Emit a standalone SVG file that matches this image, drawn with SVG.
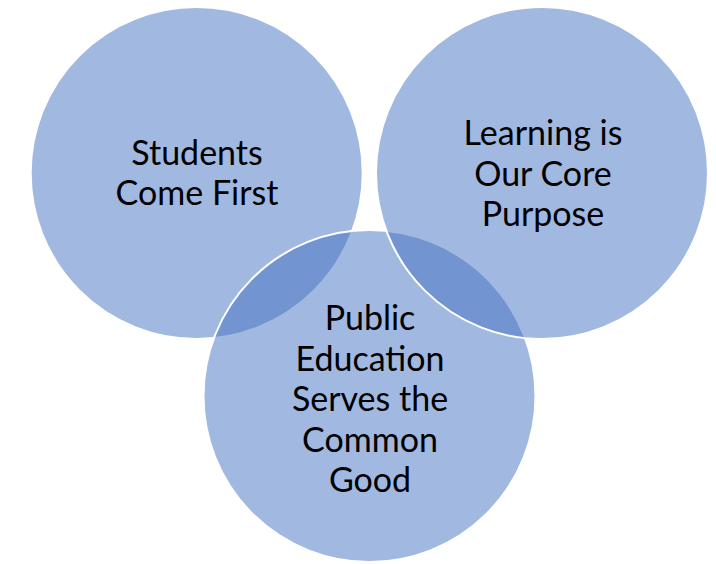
<svg xmlns="http://www.w3.org/2000/svg" width="716" height="564" viewBox="0 0 716 564">
<style>
.c{fill:#4472C4;fill-opacity:0.5;stroke:#FFFFFF;stroke-width:2}
.t{font-family:Lato,"Liberation Sans",sans-serif;font-size:34px;fill:#000000;text-anchor:middle}
</style>
<rect width="716" height="564" fill="#FFFFFF"/>
<g id="node-students">
<circle class="c" cx="196.7" cy="173" r="166"/>
<text class="t" x="197" y="165">Students</text>
<text class="t" x="197" y="205">Come First</text>
</g>
<g id="node-public">
<circle class="c" cx="369.5" cy="396" r="166"/>
<text class="t" x="370" y="330">Public</text>
<text class="t" x="370" y="370.5">Education</text>
<text class="t" x="370" y="411">Serves the</text>
<text class="t" x="370" y="451.5">Common</text>
<text class="t" x="370" y="492">Good</text>
</g>
<g id="node-learning">
<circle class="c" cx="542" cy="173" r="166"/>
<text class="t" x="543" y="145">Learning is</text>
<text class="t" x="543" y="186">Our Core</text>
<text class="t" x="543" y="226">Purpose</text>
</g>
<g id="connectors"></g>
</svg>
